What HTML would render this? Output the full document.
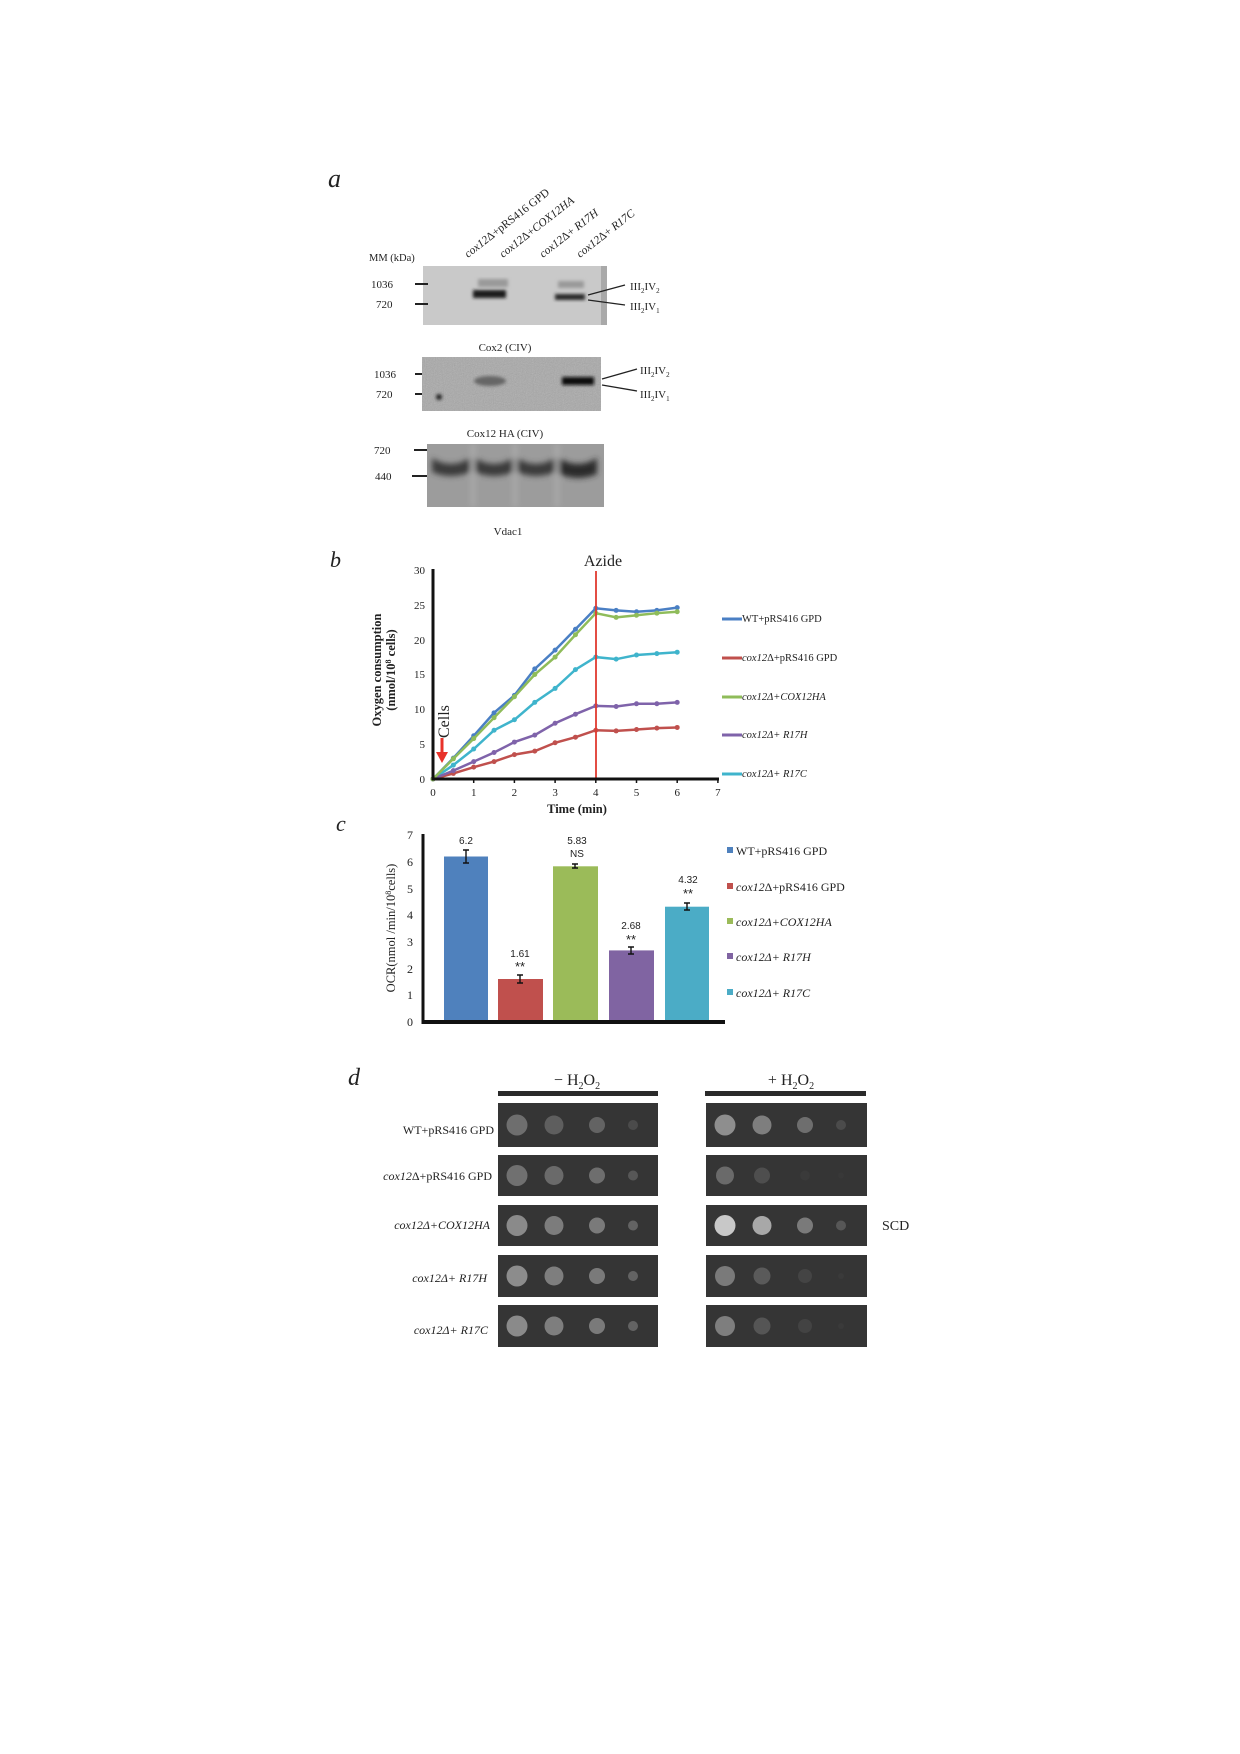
<!DOCTYPE html>
<html><head><meta charset="utf-8">
<style>
body{margin:0;background:#fff;}
svg{display:block;}
text{font-family:"Liberation Serif",serif;fill:#222;}
.s{font-family:"Liberation Sans",sans-serif;}
</style></head>
<body>
<svg id="sv" width="1240" height="1754" viewBox="0 0 1240 1754" xmlns="http://www.w3.org/2000/svg">
<defs>
<filter id="noise" x="0" y="0" width="1" height="1"><feTurbulence type="fractalNoise" baseFrequency="0.9" numOctaves="2" seed="3"/><feColorMatrix type="saturate" values="0"/><feComponentTransfer><feFuncA type="linear" slope="0.35"/></feComponentTransfer><feComposite in2="SourceGraphic" operator="in"/></filter>
<filter id="bl"><feGaussianBlur stdDeviation="1.5"/></filter>
<filter id="bl3"><feGaussianBlur stdDeviation="3"/></filter>
<clipPath id="c3"><rect x="427" y="444" width="177" height="63"/></clipPath>
</defs>
<!-- Panel a -->
<text x="328" y="187" font-size="26" font-style="italic">a</text>
<g font-size="11.5">
<text transform="translate(468,258) rotate(-38)"><tspan font-style="italic">cox12</tspan>Δ+pRS416 GPD</text>
<text transform="translate(503,258) rotate(-38)"><tspan font-style="italic">cox12</tspan>Δ+<tspan font-style="italic">COX12HA</tspan></text>
<text transform="translate(543,258) rotate(-38)"><tspan font-style="italic">cox12</tspan>Δ+ <tspan font-style="italic">R17H</tspan></text>
<text transform="translate(580,258) rotate(-38)"><tspan font-style="italic">cox12</tspan>Δ+ <tspan font-style="italic">R17C</tspan></text>
</g>
<text x="369" y="261" font-size="10.5">MM (kDa)</text>
<rect x="423" y="266" width="184" height="59" fill="#c9c9c9"/>
<rect x="601" y="266" width="6" height="59" fill="#a9a9a9"/>
<g filter="url(#bl)">
<rect x="478" y="279" width="30" height="8" fill="#9a9a9a"/>
<rect x="473" y="290" width="33" height="8" fill="#1a1a1a"/>
<rect x="558" y="281" width="26" height="7" fill="#9a9a9a"/>
<rect x="555" y="294" width="30" height="6" fill="#2a2a2a"/>
</g>
<g font-size="11">
<text x="371" y="288">1036</text><text x="376" y="308">720</text>
<text x="374" y="378">1036</text><text x="376" y="398">720</text>
<text x="374" y="454">720</text><text x="375" y="480">440</text>
</g>
<g stroke="#222" stroke-width="2">
<line x1="415" y1="284" x2="428" y2="284"/><line x1="415" y1="304" x2="428" y2="304"/>
<line x1="415" y1="374" x2="424" y2="374"/><line x1="415" y1="394" x2="424" y2="394"/>
<line x1="414" y1="450" x2="428" y2="450"/><line x1="412" y1="476" x2="428" y2="476"/>
</g>
<g stroke="#222" stroke-width="1.3">
<line x1="588" y1="295" x2="625" y2="285"/><line x1="588" y1="300" x2="625" y2="305"/>
<line x1="602" y1="379" x2="637" y2="369"/><line x1="602" y1="385" x2="637" y2="391"/>
</g>
<g font-size="11">
<text x="630" y="290">III<tspan font-size="7" dy="3">2</tspan><tspan dy="-3">IV</tspan><tspan font-size="7" dy="3">2</tspan></text>
<text x="630" y="310">III<tspan font-size="7" dy="3">2</tspan><tspan dy="-3">IV</tspan><tspan font-size="7" dy="3">1</tspan></text>
<text x="640" y="374">III<tspan font-size="7" dy="3">2</tspan><tspan dy="-3">IV</tspan><tspan font-size="7" dy="3">2</tspan></text>
<text x="640" y="398">III<tspan font-size="7" dy="3">2</tspan><tspan dy="-3">IV</tspan><tspan font-size="7" dy="3">1</tspan></text>
</g>
<text x="505" y="351" font-size="11" text-anchor="middle">Cox2 (CIV)</text>
<rect x="422" y="357" width="179" height="54" fill="#a8a8a8"/>
<rect x="422" y="357" width="179" height="54" fill="#000" filter="url(#noise)"/>
<g filter="url(#bl)">
<ellipse cx="490" cy="381" rx="16" ry="5" fill="#666"/>
<rect x="562" y="377" width="32" height="8" fill="#111"/>
<circle cx="439" cy="397" r="3" fill="#222"/>
</g>
<text x="505" y="437" font-size="11" text-anchor="middle">Cox12 HA (CIV)</text>
<rect x="427" y="444" width="177" height="63" fill="#9c9c9c"/>
<g filter="url(#bl3)" clip-path="url(#c3)">
<path d="M432,458 q19,12 38,0 v14 q-19,8 -38,0z" fill="#3a3a3a"/>
<path d="M475,458 q19,12 38,0 v14 q-19,8 -38,0z" fill="#3a3a3a"/>
<path d="M517,458 q19,12 38,0 v14 q-19,8 -38,0z" fill="#3a3a3a"/>
<path d="M559,458 q19,12 38,0 v16 q-19,8 -38,0z" fill="#2a2a2a"/>
<rect x="471" y="444" width="4" height="63" fill="#acacac"/>
<rect x="513" y="444" width="4" height="63" fill="#acacac"/>
<rect x="555" y="444" width="4" height="63" fill="#acacac"/>
</g>
<text x="508" y="535" font-size="11" text-anchor="middle">Vdac1</text>

<!-- Panel b -->
<text x="330" y="567" font-size="22" font-style="italic">b</text>
<text x="603" y="566" font-size="16" text-anchor="middle">Azide</text>
<g font-size="11" text-anchor="end">
<text x="425" y="783">0</text><text x="425" y="748">5</text><text x="425" y="713">10</text><text x="425" y="678">15</text><text x="425" y="644">20</text><text x="425" y="609">25</text><text x="425" y="574">30</text>
</g>
<g font-size="11" text-anchor="middle" id="xt"></g>
<text x="577" y="813" font-size="12.5" font-weight="bold" text-anchor="middle">Time (min)</text>
<text transform="translate(381,670) rotate(-90)" font-size="12.5" font-weight="bold" text-anchor="middle">Oxygen consumption</text>
<text transform="translate(395,670) rotate(-90)" font-size="12.5" font-weight="bold" text-anchor="middle">(nmol/10<tspan font-size="8" dy="-4">8</tspan><tspan dy="4"> cells)</tspan></text>
<text transform="translate(449,738) rotate(-90)" font-size="16">Cells</text>
<line x1="442" y1="738" x2="442" y2="754" stroke="#e8322a" stroke-width="3"/>
<polygon points="436,752 448,752 442,763" fill="#e8322a"/>
<g id="lines"></g>
<line x1="596" y1="571" x2="596" y2="779" stroke="#e03a30" stroke-width="1.8"/>
<line x1="433" y1="569" x2="433" y2="780" stroke="#111" stroke-width="3"/>
<line x1="432" y1="779" x2="719" y2="779" stroke="#111" stroke-width="3"/>
<g id="xtk" stroke="#111" stroke-width="1.5"></g>
<g font-size="10.5">
<line x1="722" y1="619" x2="742" y2="619" stroke="#4a7fc4" stroke-width="3"/><text x="742" y="622">WT+pRS416 GPD</text>
<line x1="722" y1="658" x2="742" y2="658" stroke="#c0504d" stroke-width="3"/><text x="742" y="661"><tspan font-style="italic">cox12</tspan>Δ+pRS416 GPD</text>
<line x1="722" y1="697" x2="742" y2="697" stroke="#8fbc5a" stroke-width="3"/><text x="742" y="700" font-style="italic">cox12Δ+COX12HA</text>
<line x1="722" y1="735" x2="742" y2="735" stroke="#7f63aa" stroke-width="3"/><text x="742" y="738" font-style="italic">cox12Δ+ R17H</text>
<line x1="722" y1="774" x2="742" y2="774" stroke="#3fb4cc" stroke-width="3"/><text x="742" y="777" font-style="italic">cox12Δ+ R17C</text>
</g>

<!-- Panel c -->
<text x="336" y="831" font-size="22" font-style="italic">c</text>
<g font-size="12" text-anchor="end">
<text x="413" y="1026">0</text><text x="413" y="999">1</text><text x="413" y="973">2</text><text x="413" y="946">3</text><text x="413" y="919">4</text><text x="413" y="893">5</text><text x="413" y="866">6</text><text x="413" y="839">7</text>
</g>
<text transform="translate(395,928) rotate(-90)" font-size="12.5" text-anchor="middle">OCR(nmol /min/10<tspan font-size="8" dy="-4">8</tspan><tspan dy="4">cells)</tspan></text>
<rect x="444" y="856.5" width="44" height="165.5" fill="#4f81bd"/>
<rect x="498" y="979" width="45" height="43" fill="#c0504d"/>
<rect x="553" y="866.3" width="45" height="155.7" fill="#9bbb59"/>
<rect x="609" y="950.4" width="45" height="71.6" fill="#8064a2"/>
<rect x="665" y="906.7" width="44" height="115.3" fill="#4bacc6"/>
<g stroke="#111" stroke-width="1.4">
<path d="M466,850 v13 M463,850 h6 M463,863 h6"/>
<path d="M520,975 v8 M517,975 h6 M517,983 h6"/>
<path d="M575,864 v4 M572,864 h6 M572,868 h6"/>
<path d="M631,947 v7 M628,947 h6 M628,954 h6"/>
<path d="M687,903 v7 M684,903 h6 M684,910 h6"/>
</g>
<g font-size="10" text-anchor="middle">
<text class="s" x="466" y="844">6.2</text>
<text class="s" x="520" y="957">1.61</text>
<text class="s" x="520" y="971" font-size="13">**</text>
<text class="s" x="577" y="844">5.83</text>
<text class="s" x="577" y="857">NS</text>
<text class="s" x="631" y="929">2.68</text>
<text class="s" x="631" y="944" font-size="13">**</text>
<text class="s" x="688" y="883">4.32</text>
<text class="s" x="688" y="898" font-size="13">**</text>
</g>
<line x1="423" y1="834" x2="423" y2="1024" stroke="#111" stroke-width="3"/>
<line x1="422" y1="1022" x2="725" y2="1022" stroke="#111" stroke-width="4"/>
<g font-size="12">
<rect x="727" y="847" width="6" height="6" fill="#4f81bd"/><text x="736" y="855">WT+pRS416 GPD</text>
<rect x="727" y="883" width="6" height="6" fill="#c0504d"/><text x="736" y="891"><tspan font-style="italic">cox12</tspan>Δ+pRS416 GPD</text>
<rect x="727" y="918" width="6" height="6" fill="#9bbb59"/><text x="736" y="926" font-style="italic">cox12Δ+COX12HA</text>
<rect x="727" y="953" width="6" height="6" fill="#8064a2"/><text x="736" y="961" font-style="italic">cox12Δ+ R17H</text>
<rect x="727" y="989" width="6" height="6" fill="#4bacc6"/><text x="736" y="997" font-style="italic">cox12Δ+ R17C</text>
</g>

<!-- Panel d -->
<text x="348" y="1085" font-size="24" font-style="italic">d</text>
<text x="577" y="1085" font-size="16" text-anchor="middle">− H<tspan font-size="10" dy="4">2</tspan><tspan dy="-4">O</tspan><tspan font-size="10" dy="4">2</tspan></text>
<text x="791" y="1085" font-size="16" text-anchor="middle">+ H<tspan font-size="10" dy="4">2</tspan><tspan dy="-4">O</tspan><tspan font-size="10" dy="4">2</tspan></text>
<rect x="498" y="1091" width="160" height="5" fill="#2a2a2a"/>
<rect x="705" y="1091" width="161" height="5" fill="#2a2a2a"/>
<g id="plates"></g>
<g font-size="12" text-anchor="end">
<text x="494" y="1134">WT+pRS416 GPD</text>
<text x="492" y="1180"><tspan font-style="italic">cox12</tspan>Δ+pRS416 GPD</text>
<text x="490" y="1229" font-style="italic">cox12Δ+COX12HA</text>
<text x="487" y="1282" font-style="italic">cox12Δ+ R17H</text>
<text x="488" y="1334" font-style="italic">cox12Δ+ R17C</text>
</g>
<text x="882" y="1230" font-size="14">SCD</text>
</svg>
<script>
(function(){
var NS="http://www.w3.org/2000/svg";
function px(x){return 433+40.7*x;} function py(y){return 779-6.967*y;}
var xt=document.getElementById("xt"), xtk=document.getElementById("xtk");
for(var k=0;k<=7;k++){var t=document.createElementNS(NS,"text");t.setAttribute("x",px(k));t.setAttribute("y",796);t.textContent=k;xt.appendChild(t);
 if(k>0){var l=document.createElementNS(NS,"line");l.setAttribute("x1",px(k));l.setAttribute("x2",px(k));l.setAttribute("y1",779);l.setAttribute("y2",783);xtk.appendChild(l);}}
var data=[
["#3fb4cc",[0,2,4.3,7,8.5,11,13,15.7,17.5,17.2,17.8,18,18.2]],
["#c0504d",[0,0.8,1.7,2.5,3.5,4,5.2,6,7,6.9,7.1,7.3,7.4]],
["#7f63aa",[0,1.2,2.5,3.8,5.3,6.3,8,9.3,10.5,10.4,10.8,10.8,11]],
["#4a7fc4",[0,3,6.2,9.5,12,15.8,18.5,21.5,24.5,24.2,24,24.2,24.6]],
["#8fbc5a",[0,2.9,5.8,8.8,11.8,15,17.5,20.7,23.8,23.2,23.5,23.8,24]]];
var g=document.getElementById("lines");
data.forEach(function(d){
 var pts=d[1].map(function(v,i){return px(i*0.5)+","+py(v);}).join(" ");
 var p=document.createElementNS(NS,"polyline");
 p.setAttribute("points",pts);p.setAttribute("fill","none");p.setAttribute("stroke",d[0]);p.setAttribute("stroke-width","2.5");g.appendChild(p);
 d[1].forEach(function(v,i){var c=document.createElementNS(NS,"circle");c.setAttribute("cx",px(i*0.5));c.setAttribute("cy",py(v));c.setAttribute("r","2.5");c.setAttribute("fill",d[0]);g.appendChild(c);});
});
var pg=document.getElementById("plates");
var rows=[[1103,1147],[1155,1196],[1205,1246],[1255,1297],[1305,1347]];
var left=[[["#6e6e6e",10.5],["#5e5e5e",9.5],["#777",8,1],["#555",5,1]],[["#707070",10.5],["#6a6a6a",9.5],["#888",8,1],["#666",5,1]],[["#8a8a8a",10.5],["#7c7c7c",9.5],["#999",8,1],["#777",5,1]],[["#8c8c8c",10.5],["#7e7e7e",9.5],["#999",8,1],["#777",5,1]],[["#8a8a8a",10.5],["#7e7e7e",9.5],["#999",8,1],["#777",5,1]]];
var right=[[["#8e8e8e",10.5],["#7e7e7e",9.5],["#888",8,1],["#555",5,1]],[["#6a6a6a",9],["#4e4e4e",8],["#3a3a3a",5],["#383838",3]],[["#c8c8c8",10.5],["#a8a8a8",9.5],["#999",8,1],["#666",5,1]],[["#7a7a7a",10],["#5a5a5a",8.5],["#444",7],["#3a3a3a",3]],[["#7e7e7e",10],["#555",8.5],["#434343",7],["#3a3a3a",3]]];
function plate(x,y0,y1,w,sp){
 var r=document.createElementNS(NS,"rect");r.setAttribute("x",x);r.setAttribute("y",y0);r.setAttribute("width",w);r.setAttribute("height",y1-y0);r.setAttribute("fill","#353535");pg.appendChild(r);
 var cy=(y0+y1)/2, xs=[x+19,x+56,x+99,x+135];
 sp.forEach(function(s,i){var c=document.createElementNS(NS,"circle");c.setAttribute("cx",xs[i]);c.setAttribute("cy",cy);c.setAttribute("r",s[1]);c.setAttribute("fill",s[0]);if(s[2])c.setAttribute("opacity","0.7");pg.appendChild(c);});
}
rows.forEach(function(r,i){plate(498,r[0],r[1],160,left[i]);plate(706,r[0],r[1],161,right[i]);});
})();
</script>
</body></html>
